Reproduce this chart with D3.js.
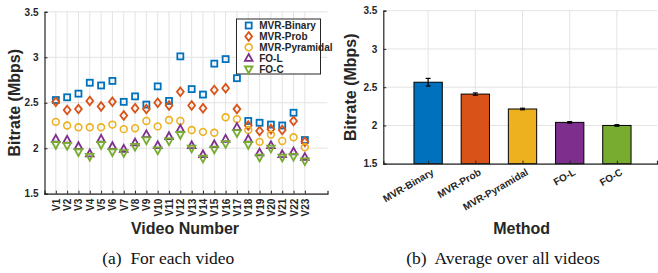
<!DOCTYPE html>
<html>
<head>
<meta charset="utf-8">
<script src="https://cdn.jsdelivr.net/npm/d3@7"></script>
<style>
  body { margin: 0; background: #fff; }
  svg { display: block; }
  .tick text { font-family: "Liberation Sans", Arial, sans-serif; font-weight: bold; font-size: 10px; fill: #262626; }
</style>
</head>
<body>
<svg id="chart" width="658" height="273"></svg>
<script>
// per-video bitrates (Mbps), V1..V23
const videos = d3.range(1, 24).map(i => "V" + i);
const mvrBinary    = [2.53, 2.56, 2.60, 2.72, 2.69, 2.74, 2.51, 2.57, 2.48, 2.68, 2.52, 3.01, 2.65, 2.59, 2.93, 2.98, 2.77, 2.30, 2.28, 2.26, 2.25, 2.39, 2.09];
const mvrProb      = [2.51, 2.42, 2.43, 2.52, 2.46, 2.51, 2.36, 2.44, 2.43, 2.50, 2.47, 2.62, 2.47, 2.44, 2.64, 2.66, 2.43, 2.25, 2.19, 2.21, 2.20, 2.30, 2.07];
const mvrPyramidal = [2.29, 2.25, 2.23, 2.23, 2.23, 2.26, 2.21, 2.22, 2.30, 2.24, 2.31, 2.30, 2.20, 2.18, 2.17, 2.34, 2.32, 2.20, 2.07, 2.15, 2.08, 2.12, 2.01];
const foL          = [2.10, 2.09, 2.02, 1.94, 2.10, 2.02, 1.99, 2.06, 2.15, 2.03, 2.13, 2.21, 2.03, 1.93, 2.04, 2.10, 2.23, 2.10, 1.95, 2.03, 1.93, 1.96, 1.90];
const foC          = [2.04, 2.03, 1.96, 1.91, 2.04, 1.96, 1.95, 2.02, 2.09, 1.98, 2.08, 2.15, 2.00, 1.89, 1.99, 2.05, 2.17, 2.04, 1.90, 2.00, 1.90, 1.91, 1.86];

// averages over all videos
const methods = ["MVR-Binary", "MVR-Prob", "MVR-Pyramidal", "FO-L", "FO-C"];
const avgBitrate = [2.565, 2.41, 2.215, 2.04, 2.0];
const avgError   = [0.05, 0.015, 0.01, 0.01, 0.01];

const yTicks = [1.5, 2, 2.5, 3, 3.5];
const colors = ["#0072BD", "#D95319", "#EDB120", "#7E2F8E", "#77AC30"];
const axisColor = "#262626";
const gridColor = "#e3e3e3";
const sans = "'Liberation Sans', Arial, sans-serif";
const serif = "'Liberation Serif', 'DejaVu Serif', serif";

const svg = d3.select("#chart");

// ---------- (a) per video ----------
const xA = d3.scaleLinear().domain([0, 25]).range([44.5, 327.5]);
const yA = d3.scaleLinear().domain([1.5, 3.5]).range([193.7, 11.8]);
const gA = svg.append("g");

gA.append("g").selectAll("line.h").data(yTicks).join("line")
  .attr("x1", xA(0)).attr("x2", xA(25))
  .attr("y1", d => yA(d)).attr("y2", d => yA(d))
  .attr("stroke", gridColor);
gA.append("g").selectAll("line.v").data(videos).join("line")
  .attr("x1", (d, i) => xA(i + 1)).attr("x2", (d, i) => xA(i + 1))
  .attr("y1", yA(1.5)).attr("y2", yA(3.5))
  .attr("stroke", gridColor);

const series = [
  { name: "MVR-Binary", values: mvrBinary, shape: "square" },
  { name: "MVR-Prob", values: mvrProb, shape: "diamond" },
  { name: "MVR-Pyramidal", values: mvrPyramidal, shape: "circle" },
  { name: "FO-L", values: foL, shape: "up" },
  { name: "FO-C", values: foC, shape: "down" }
];

function marker(sel, shape, color) {
  if (shape === "square") {
    sel.append("rect").attr("x", -3).attr("y", -3).attr("width", 6).attr("height", 6)
      .attr("fill", "none").attr("stroke", color).attr("stroke-width", 1.8);
  } else if (shape === "diamond") {
    sel.append("path").attr("d", "M0,-4.3L3.4,0L0,4.3L-3.4,0Z")
      .attr("fill", "none").attr("stroke", color).attr("stroke-width", 1.8);
  } else if (shape === "circle") {
    sel.append("circle").attr("r", 3.4)
      .attr("fill", "none").attr("stroke", color).attr("stroke-width", 1.6);
  } else if (shape === "up") {
    sel.append("path").attr("d", "M0,-4.2L3.8,2.6L-3.8,2.6Z")
      .attr("fill", "none").attr("stroke", color).attr("stroke-width", 1.8);
  } else {
    sel.append("path").attr("d", "M0,4.2L3.8,-2.6L-3.8,-2.6Z")
      .attr("fill", "none").attr("stroke", color).attr("stroke-width", 1.8);
  }
}

series.forEach((s, k) => {
  gA.append("g").selectAll("g").data(s.values).join("g")
    .attr("transform", (d, i) => `translate(${xA(i + 1)},${yA(d)})`)
    .each(function () { marker(d3.select(this), s.shape, colors[k]); });
});

// axes
const axAy = gA.append("g").attr("transform", `translate(${xA(0)},0)`)
  .call(d3.axisLeft(yA).tickValues(yTicks).tickFormat(d3.format("~g")).tickSize(-3).tickPadding(6));
const axAx = gA.append("g").attr("transform", `translate(0,${yA(1.5)})`)
  .call(d3.axisBottom(xA).tickValues(d3.range(1, 24)).tickFormat(d => videos[d - 1]).tickSize(-3).tickPadding(5));
axAx.selectAll("text")
  .attr("transform", "rotate(-90)")
  .attr("text-anchor", "end")
  .attr("x", -5).attr("y", 0).attr("dy", "0.35em");
[axAy, axAx].forEach(a => {
  a.select(".domain").attr("stroke", axisColor).attr("stroke-width", 1.2);
  a.selectAll(".tick line").attr("stroke", axisColor);
});

// legend
const leg = gA.append("g");
leg.append("rect").attr("x", 236.5).attr("y", 19).attr("width", 84).attr("height", 55)
  .attr("fill", "#fff").attr("stroke", axisColor).attr("stroke-width", 1);
series.forEach((s, k) => {
  const row = leg.append("g").attr("transform", `translate(248.7,${25.5 + k * 10.9})`);
  marker(row, s.shape, colors[k]);
  row.append("text").attr("x", 10.5).attr("y", 0).attr("dy", "0.35em")
    .attr("font-family", sans).attr("font-weight", "bold").attr("font-size", 10)
    .attr("fill", axisColor).text(s.name);
});

gA.append("text").attr("transform", `translate(20,${(yA(1.5) + yA(3.5)) / 2}) rotate(-90)`)
  .attr("text-anchor", "middle").attr("font-family", sans).attr("font-weight", "bold")
  .attr("font-size", 16).attr("fill", axisColor).text("Bitrate (Mbps)");
gA.append("text").attr("x", 185).attr("y", 234).attr("text-anchor", "middle")
  .attr("font-family", sans).attr("font-weight", "bold").attr("font-size", 16)
  .attr("fill", axisColor).text("Video Number");
gA.append("text").attr("x", 168.3).attr("y", 264).attr("text-anchor", "middle")
  .attr("font-family", serif).attr("font-size", 17.5).attr("fill", "#111")
  .attr("xml:space", "preserve").text("(a)  For each video");

// ---------- (b) average ----------
const xB = d3.scaleLinear().domain([0.05, 5.85]).range([383.3, 657]);
const yB = d3.scaleLinear().domain([1.5, 3.5]).range([163.7, 10.7]);
const gB = svg.append("g");

gB.append("g").selectAll("line").data(yTicks).join("line")
  .attr("x1", xB(0.05)).attr("x2", xB(5.85))
  .attr("y1", d => yB(d)).attr("y2", d => yB(d))
  .attr("stroke", gridColor);
gB.append("g").selectAll("line").data(methods).join("line")
  .attr("x1", (d, i) => xB(i + 1)).attr("x2", (d, i) => xB(i + 1))
  .attr("y1", yB(1.5)).attr("y2", yB(3.5))
  .attr("stroke", gridColor);

const barW = xB(0.6) - xB(0);
gB.append("g").selectAll("rect").data(avgBitrate).join("rect")
  .attr("x", (d, i) => xB(i + 1) - barW / 2)
  .attr("y", d => yB(d))
  .attr("width", barW)
  .attr("height", d => yB(1.5) - yB(d))
  .attr("fill", (d, i) => colors[i])
  .attr("stroke", "#000").attr("stroke-width", 1);

// error bars
const eb = gB.append("g").selectAll("g").data(avgBitrate).join("g")
  .attr("transform", (d, i) => `translate(${xB(i + 1)},0)`)
  .attr("stroke", "#000").attr("stroke-width", 1.2);
eb.append("line").attr("y1", (d, i) => yB(d + avgError[i])).attr("y2", (d, i) => yB(d - avgError[i]));
eb.append("line").attr("x1", -2.5).attr("x2", 2.5)
  .attr("y1", (d, i) => yB(d + avgError[i])).attr("y2", (d, i) => yB(d + avgError[i]));
eb.append("line").attr("x1", -2.5).attr("x2", 2.5)
  .attr("y1", (d, i) => yB(d - avgError[i])).attr("y2", (d, i) => yB(d - avgError[i]));

const axBy = gB.append("g").attr("transform", `translate(${xB(0.05)},0)`)
  .call(d3.axisLeft(yB).tickValues(yTicks).tickFormat(d3.format("~g")).tickSize(-3).tickPadding(6));
const axBx = gB.append("g").attr("transform", `translate(0,${yB(1.5)})`)
  .call(d3.axisBottom(xB).tickValues([1, 2, 3, 4, 5]).tickFormat(d => methods[d - 1]).tickSize(-3).tickPadding(6));
axBx.selectAll("text")
  .attr("transform", "rotate(-30)")
  .attr("text-anchor", "end")
  .attr("x", 0).attr("y", 12).attr("dy", 0);
[axBy, axBx].forEach(a => {
  a.select(".domain").attr("stroke", axisColor).attr("stroke-width", 1.2);
  a.selectAll(".tick line").attr("stroke", axisColor);
});

gB.append("text").attr("transform", `translate(356,${(yB(1.5) + yB(3.5)) / 2}) rotate(-90)`)
  .attr("text-anchor", "middle").attr("font-family", sans).attr("font-weight", "bold")
  .attr("font-size", 16).attr("fill", axisColor).text("Bitrate (Mbps)");
gB.append("text").attr("x", 521.7).attr("y", 234).attr("text-anchor", "middle")
  .attr("font-family", sans).attr("font-weight", "bold").attr("font-size", 16)
  .attr("fill", axisColor).text("Method");
gB.append("text").attr("x", 503).attr("y", 264).attr("text-anchor", "middle")
  .attr("font-family", serif).attr("font-size", 17.5).attr("fill", "#111")
  .attr("xml:space", "preserve").text("(b)  Average over all videos");
</script>
</body>
</html>
